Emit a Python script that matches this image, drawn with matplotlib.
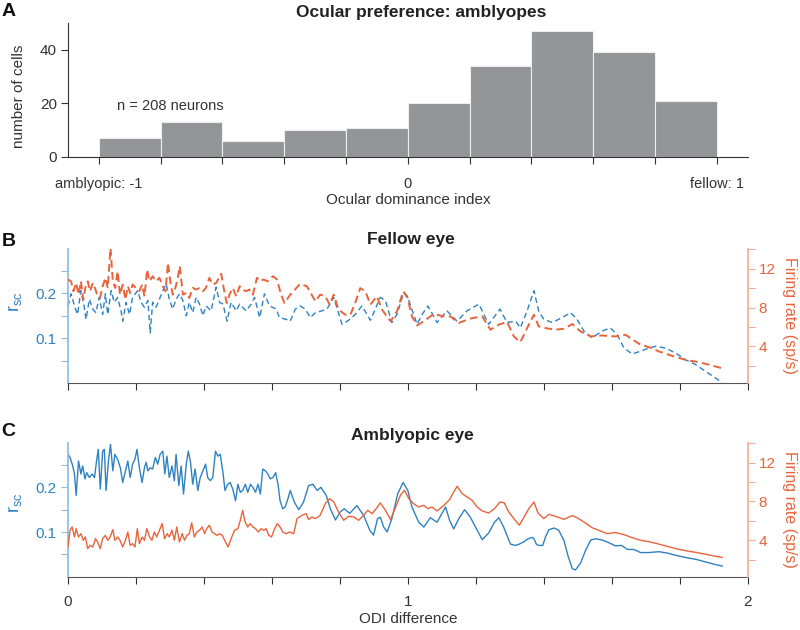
import numpy as np
import matplotlib
matplotlib.use('Agg')
import matplotlib.pyplot as plt

plt.rcParams['font.family'] = ['Liberation Sans', 'DejaVu Sans']
plt.rcParams['mathtext.default'] = 'regular'

# histogram of ocular dominance index
odi_bin_left = [-1.0, -0.8, -0.6, -0.4, -0.2, 0.0, 0.2, 0.4, 0.6, 0.8]
odi_counts = [7, 13, 6, 10, 11, 20, 34, 47, 39, 21]

# fellow eye: r_sc and firing rate vs ODI difference
fel_r_x = [0.000, 0.009, 0.019, 0.028, 0.038, 0.048, 0.053, 0.063, 0.073, 0.082,
           0.092, 0.102, 0.110, 0.117, 0.127, 0.136, 0.146, 0.156, 0.161, 0.171,
           0.181, 0.190, 0.205, 0.215, 0.225, 0.235, 0.242, 0.249, 0.259, 0.269,
           0.279, 0.289, 0.298, 0.308, 0.318, 0.328, 0.338, 0.348, 0.357, 0.367,
           0.377, 0.387, 0.397, 0.406, 0.421, 0.436, 0.446, 0.456, 0.468, 0.480,
           0.495, 0.505, 0.524, 0.539, 0.549, 0.564, 0.578, 0.593, 0.613, 0.622,
           0.642, 0.654, 0.669, 0.683, 0.698, 0.713, 0.728, 0.747, 0.762, 0.782,
           0.806, 0.826, 0.845, 0.865, 0.890, 0.919, 0.934, 0.953, 0.968, 0.988,
           1.003, 1.027, 1.042, 1.059, 1.086, 1.115, 1.145, 1.174, 1.209, 1.238,
           1.271, 1.292, 1.317, 1.331, 1.351, 1.371, 1.385, 1.400, 1.425, 1.454,
           1.479, 1.498, 1.518, 1.542, 1.572, 1.596, 1.616, 1.636, 1.660, 1.685,
           1.709, 1.729, 1.758, 1.788, 1.817, 1.847, 1.876, 1.906, 1.925]
fel_r = [0.172, 0.199, 0.172, 0.153, 0.206, 0.169, 0.142, 0.187, 0.165, 0.157,
         0.191, 0.153, 0.199, 0.153, 0.206, 0.180, 0.191, 0.161, 0.138, 0.180,
         0.153, 0.191, 0.206, 0.180, 0.169, 0.184, 0.112, 0.180, 0.169, 0.187,
         0.206, 0.221, 0.187, 0.165, 0.187, 0.199, 0.184, 0.150, 0.180, 0.157,
         0.191, 0.176, 0.150, 0.172, 0.161, 0.214, 0.180, 0.176, 0.138, 0.180,
         0.161, 0.176, 0.161, 0.176, 0.191, 0.146, 0.199, 0.172, 0.165, 0.146,
         0.142, 0.138, 0.165, 0.172, 0.165, 0.146, 0.157, 0.161, 0.165, 0.191,
         0.131, 0.140, 0.153, 0.172, 0.140, 0.191, 0.184, 0.135, 0.153, 0.202,
         0.184, 0.131, 0.153, 0.172, 0.135, 0.161, 0.138, 0.161, 0.176, 0.131,
         0.165, 0.135, 0.138, 0.123, 0.161, 0.206, 0.161, 0.142, 0.135, 0.146,
         0.157, 0.142, 0.116, 0.101, 0.116, 0.123, 0.108, 0.078, 0.065, 0.071,
         0.078, 0.082, 0.078, 0.067, 0.052, 0.041, 0.026, 0.011, 0.000]
fel_fr_x = [0.000, 0.009, 0.016, 0.024, 0.031, 0.038, 0.045, 0.051, 0.058, 0.065,
            0.073, 0.081, 0.087, 0.094, 0.102, 0.110, 0.117, 0.125, 0.132, 0.139,
            0.146, 0.153, 0.161, 0.169, 0.176, 0.183, 0.190, 0.200, 0.210, 0.218,
            0.225, 0.233, 0.240, 0.249, 0.259, 0.269, 0.279, 0.287, 0.294, 0.301,
            0.308, 0.316, 0.323, 0.329, 0.338, 0.348, 0.357, 0.367, 0.377, 0.387,
            0.397, 0.406, 0.416, 0.426, 0.436, 0.451, 0.458, 0.467, 0.475, 0.485,
            0.495, 0.505, 0.514, 0.524, 0.534, 0.544, 0.556, 0.566, 0.575, 0.588,
            0.603, 0.615, 0.627, 0.637,
            0.654, 0.683, 0.703, 0.728, 0.742, 0.757, 0.770, 0.782, 0.796, 0.816,
            0.831, 0.845, 0.860, 0.875, 0.890, 0.909, 0.924, 0.949, 0.968, 0.986,
            0.998, 1.012, 1.027, 1.047, 1.076, 1.106, 1.125, 1.150, 1.184, 1.219,
            1.243, 1.268, 1.292, 1.312,
            1.331, 1.351, 1.371, 1.385, 1.405, 1.434, 1.459, 1.484, 1.508, 1.538,
            1.572, 1.611, 1.641, 1.655, 1.680, 1.709, 1.739, 1.778, 1.817, 1.857,
            1.896, 1.925]
fel_fr = [10.87, 10.69, 9.67, 10.52, 9.32, 10.69, 8.81, 10.01, 10.69, 9.67,
          10.52, 9.84, 9.15, 8.98, 10.18, 11.04, 10.01, 14.13, 10.69, 10.01,
          11.72, 9.32, 10.35, 8.81, 10.18, 9.49, 10.35, 10.01, 9.67, 10.35,
          9.15, 11.90, 10.69, 11.21, 10.69, 11.04, 10.18, 9.67, 12.58, 10.69,
          9.32, 10.01, 11.04, 12.24, 9.32, 9.49, 8.98, 10.01, 9.84, 10.01,
          9.67, 10.01, 11.04, 10.35, 10.52, 11.45, 10.01, 8.46, 9.32, 10.01,
          9.15, 10.18, 9.84, 9.67, 9.84, 9.32, 11.04, 10.69, 10.87, 10.69,
          11.21, 10.87, 9.32, 8.46,
          9.32, 10.42, 10.18, 8.63, 9.32, 9.15, 8.30, 9.32, 7.78, 7.26,
          7.26, 8.46, 9.99, 9.65, 8.30, 9.15, 7.78, 6.59, 7.60, 9.65,
          9.15, 7.09, 6.16, 6.59, 7.33, 7.09, 7.09, 6.42, 6.87, 7.09,
          5.72, 6.25, 6.52, 5.03,
          4.45, 5.89, 7.26, 6.06, 5.89, 5.72, 5.82, 6.30, 5.55, 5.03,
          5.13, 5.03, 5.20, 4.86, 4.28, 3.93, 3.49, 3.04, 2.63, 2.39,
          2.04, 1.77]

# amblyopic eye: r_sc and firing rate vs ODI difference
amb_r_x = [0.000, 0.006, 0.014, 0.019, 0.024, 0.031, 0.038, 0.043, 0.050, 0.055,
           0.063, 0.071, 0.078, 0.084, 0.089, 0.095, 0.102, 0.107, 0.112, 0.119,
           0.125, 0.132, 0.138, 0.146, 0.154, 0.161, 0.169, 0.176, 0.183, 0.190,
           0.197, 0.203, 0.210, 0.218, 0.225, 0.230, 0.235, 0.242, 0.249, 0.257,
           0.264, 0.271, 0.279, 0.285, 0.291, 0.298, 0.306, 0.313, 0.318, 0.326,
           0.333, 0.340, 0.348, 0.354, 0.360, 0.367, 0.374, 0.382, 0.389, 0.397,
           0.405, 0.411, 0.419, 0.426, 0.434, 0.441, 0.448, 0.456, 0.462, 0.470,
           0.477, 0.485, 0.493, 0.500, 0.507, 0.514, 0.522, 0.529, 0.537, 0.544,
           0.552, 0.559, 0.566, 0.573, 0.581, 0.588, 0.595, 0.603, 0.611, 0.618,
           0.624, 0.632, 0.639, 0.647,
           0.654, 0.666, 0.679, 0.693, 0.708, 0.721, 0.733, 0.744, 0.760, 0.772,
           0.787, 0.801, 0.813, 0.829, 0.850, 0.870, 0.888, 0.899, 0.911, 0.919,
           0.929, 0.939, 0.953, 0.970, 0.986, 1.000, 1.012, 1.032, 1.047, 1.066,
           1.086, 1.111, 1.123, 1.135, 1.150, 1.167, 1.184, 1.204, 1.219, 1.238,
           1.255, 1.268, 1.282, 1.302,
           1.317, 1.328, 1.341, 1.354, 1.366, 1.371, 1.378, 1.385, 1.397, 1.405,
           1.415, 1.430, 1.444, 1.459, 1.472, 1.484, 1.493, 1.508, 1.523, 1.538,
           1.552, 1.572, 1.592, 1.611, 1.629, 1.646, 1.665, 1.685, 1.709, 1.739,
           1.763, 1.788, 1.817, 1.847, 1.876, 1.906, 1.925]
amb_r = [0.274, 0.267, 0.248, 0.230, 0.182, 0.259, 0.230, 0.248, 0.219, 0.233,
         0.222, 0.230, 0.222, 0.259, 0.285, 0.196, 0.281, 0.285, 0.193, 0.259,
         0.296, 0.237, 0.274, 0.263, 0.244, 0.211, 0.237, 0.259, 0.222, 0.252,
         0.263, 0.285, 0.244, 0.211, 0.244, 0.256, 0.237, 0.244, 0.241, 0.267,
         0.252, 0.274, 0.281, 0.230, 0.270, 0.222, 0.248, 0.215, 0.274, 0.204,
         0.248, 0.185, 0.252, 0.281, 0.259, 0.207, 0.241, 0.193, 0.222, 0.237,
         0.252, 0.222, 0.215, 0.222, 0.281, 0.270, 0.274, 0.233, 0.193, 0.207,
         0.211, 0.196, 0.170, 0.207, 0.189, 0.193, 0.207, 0.189, 0.207, 0.200,
         0.189, 0.207, 0.185, 0.241, 0.237, 0.230, 0.219, 0.222, 0.233, 0.207,
         0.170, 0.152, 0.156, 0.174,
         0.193, 0.167, 0.150, 0.167, 0.204, 0.207, 0.193, 0.200, 0.182, 0.152,
         0.127, 0.145, 0.152, 0.142, 0.159, 0.137, 0.104, 0.093, 0.130, 0.133,
         0.111, 0.100, 0.130, 0.185, 0.211, 0.193, 0.156, 0.122, 0.111, 0.132,
         0.122, 0.156, 0.126, 0.107, 0.130, 0.150, 0.133, 0.104, 0.083, 0.098,
         0.122, 0.132, 0.111, 0.073,
         0.070, 0.073, 0.078, 0.085, 0.088, 0.085, 0.073, 0.070, 0.070, 0.089,
         0.105, 0.109, 0.104, 0.082, 0.045, 0.018, 0.015, 0.030, 0.059, 0.082,
         0.085, 0.082, 0.076, 0.069, 0.070, 0.061, 0.061, 0.054, 0.054, 0.056,
         0.053, 0.048, 0.043, 0.039, 0.033, 0.027, 0.024]
amb_fr_x = [0.000, 0.006, 0.012, 0.019, 0.024, 0.031, 0.038, 0.045, 0.051, 0.058,
            0.065, 0.073, 0.081, 0.087, 0.095, 0.102, 0.110, 0.117, 0.124, 0.132,
            0.138, 0.146, 0.153, 0.161, 0.169, 0.176, 0.183, 0.190, 0.197, 0.204,
            0.210, 0.218, 0.225, 0.232, 0.240, 0.247, 0.254, 0.261, 0.269, 0.277,
            0.284, 0.292, 0.298, 0.306, 0.313, 0.320, 0.328, 0.336, 0.343, 0.350,
            0.357, 0.364, 0.372, 0.379, 0.387, 0.395, 0.402, 0.408, 0.416, 0.424,
            0.431, 0.438, 0.446, 0.454, 0.461, 0.471, 0.480, 0.490, 0.500, 0.507,
            0.514, 0.521, 0.529, 0.536, 0.544, 0.552, 0.560, 0.568, 0.576, 0.583,
            0.591, 0.599, 0.608, 0.616, 0.624, 0.632, 0.642, 0.652,
            0.664, 0.674, 0.688, 0.701, 0.708, 0.718, 0.728, 0.742, 0.757, 0.770,
            0.782, 0.796, 0.811, 0.826, 0.841, 0.855, 0.870, 0.882, 0.895, 0.907,
            0.919, 0.934, 0.949, 0.966, 0.978, 0.990, 1.003, 1.017, 1.032, 1.047,
            1.059, 1.071, 1.086, 1.106, 1.123, 1.135, 1.145, 1.160, 1.174, 1.189,
            1.204, 1.219, 1.238, 1.255, 1.271, 1.284, 1.297, 1.312,
            1.328, 1.341, 1.356, 1.371, 1.383, 1.400, 1.415, 1.434, 1.459, 1.484,
            1.498, 1.518, 1.542, 1.567, 1.587, 1.611, 1.636, 1.660, 1.685, 1.709,
            1.734, 1.763, 1.793, 1.822, 1.852, 1.881, 1.906, 1.925]
amb_fr = [3.31, 5.03, 5.37, 4.34, 5.20, 4.34, 4.68, 4.00, 4.34, 3.14,
          3.48, 3.31, 4.17, 3.82, 3.14, 4.17, 4.51, 4.00, 4.34, 5.10,
          4.00, 4.34, 4.00, 3.31, 4.00, 4.85, 3.48, 3.65, 3.31, 5.20,
          3.65, 4.34, 4.00, 5.20, 4.34, 4.00, 4.85, 4.34, 5.03, 5.72,
          4.17, 4.68, 4.34, 5.03, 4.00, 5.37, 3.82, 4.68, 4.00, 4.51,
          4.68, 5.79, 4.34, 4.85, 5.03, 5.37, 4.68, 5.20, 5.55, 4.85,
          4.68, 4.51, 4.68, 4.51, 4.00, 3.31, 4.17, 5.03, 5.20, 6.06,
          7.09, 5.89, 5.37, 5.72, 5.37, 5.20, 4.85, 5.20, 5.03, 5.20,
          4.51, 4.34, 5.20, 5.72, 5.37, 4.85, 4.68, 4.85,
          4.68, 6.23, 6.57, 6.74, 6.13, 6.40, 6.23, 6.57, 7.77, 8.29,
          7.95, 6.91, 6.06, 6.47, 6.40, 6.06, 6.57, 7.09, 6.74, 7.26,
          7.85, 7.09, 6.13, 7.60, 8.63, 9.15, 8.29, 7.77, 7.43, 7.60,
          7.26, 7.43, 7.02, 7.60, 8.19, 8.98, 9.56, 8.80, 8.46, 8.12,
          7.43, 7.02, 6.81, 7.26, 7.95, 7.85, 6.91, 6.23,
          5.55, 6.33, 7.26, 7.94, 6.81, 6.23, 6.67, 6.47, 6.16, 6.54,
          6.33, 5.89, 5.30, 4.96, 4.68, 4.80, 4.58, 4.27, 4.00, 3.86,
          3.65, 3.38, 3.10, 2.90, 2.73, 2.52, 2.35, 2.24]

blue = '#2f82c0'
blue_ax = '#8dbadd'
orange = '#e8643c'
orange_ax = '#f2ab92'
dark = '#333333'

fig = plt.figure(figsize=(8, 6.3), dpi=100)

# ---- A: histogram
axA = fig.add_axes([0.085, 0.7508, 0.8496, 0.2127])
axA.bar(odi_bin_left, odi_counts, width=0.2, align='edge',
        color='#939598', edgecolor='#eeeeee', linewidth=0.8)
axA.set_xlim(-1.1, 1.1)
axA.set_ylim(0, 50)
axA.set_yticks([0, 20, 40])
axA.set_xticks(np.round(np.arange(-1, 1.01, 0.2), 1))
axA.set_xticklabels(['amblyopic: -1', '', '', '', '', '0', '', '', '', '', 'fellow: 1'])
axA.tick_params(axis='x', direction='out', length=5, width=0.8, pad=9.5,
                labelsize=10.5, colors=dark)
axA.tick_params(axis='y', direction='out', length=5, width=0.8, pad=3,
                labelsize=11, colors=dark)
for s in ['top', 'right']:
    axA.spines[s].set_visible(False)
for s in ['left', 'bottom']:
    axA.spines[s].set_color(dark)
    axA.spines[s].set_linewidth(0.8)
axA.set_ylabel('number of cells', fontsize=11, color=dark, va='center')
axA.yaxis.set_label_coords(-0.072, 0.455)
axA.set_xlabel('Ocular dominance index', fontsize=11, color=dark, va='center')
axA.xaxis.set_label_coords(0.5, -0.32)
axA.set_title('Ocular preference: amblyopes', fontsize=12.5, fontweight='bold',
              color='#222222', pad=4, x=0.52)
axA.text(-0.77, 19, 'n = 208 neurons', fontsize=10.5, color=dark,
         ha='center', va='center')


def style_pair(ax, ax2, show_xlabels):
    ax.set_xlim(0, 2)
    ax.set_ylim(0, 0.3)
    ax2.set_ylim(0.25, 14.05)
    ax.set_xticks(np.round(np.arange(0, 2.01, 0.2), 1))
    if show_xlabels:
        ax.set_xticklabels(['0', '', '', '', '', '1', '', '', '', '', '2'])
    else:
        ax.set_xticklabels([])
    ax.set_yticks([0.05, 0.1, 0.15, 0.2, 0.25])
    ax.set_yticklabels(['', '0.1', '', '0.2', ''])
    ax2.set_yticks([2, 4, 6, 8, 10, 12, 14])
    ax2.set_yticklabels(['', '4', '', '8', '', '12', ''])
    ax.tick_params(axis='x', direction='out', length=5, width=0.8, pad=8,
                   labelsize=11, colors=dark)
    ax.tick_params(axis='y', direction='out', length=5, width=0.8, pad=3,
                   labelsize=11, color=blue_ax, labelcolor=blue)
    ax2.tick_params(axis='y', direction='out', length=5, width=0.8, pad=3,
                    labelsize=11, color=orange_ax, labelcolor=orange)
    for a in (ax, ax2):
        a.spines['top'].set_visible(False)
    ax.spines['right'].set_visible(False)
    ax2.spines['left'].set_visible(False)
    ax2.spines['bottom'].set_visible(False)
    ax.spines['left'].set_color(blue_ax)
    ax.spines['left'].set_linewidth(1.2)
    ax.spines['bottom'].set_color('#555555')
    ax.spines['bottom'].set_linewidth(0.8)
    ax2.spines['right'].set_color(orange_ax)
    ax2.spines['right'].set_linewidth(1.2)
    ax2.set_ylabel('Firing rate (sp/s)', rotation=270, fontsize=11.5,
                   color=orange, va='center')
    ax2.yaxis.set_label_coords(1.062, 0.5)


# ---- B: fellow eye
axB = fig.add_axes([0.085, 0.392, 0.8496, 0.2135])
axB2 = axB.twinx()
axB.plot(fel_r_x, fel_r, color=blue, lw=1.0, dashes=(4, 2.5))
axB2.plot(fel_fr_x, fel_fr, color=orange, lw=1.4, dashes=(4, 2.2))
style_pair(axB, axB2, False)
axB.set_ylabel('r$_{sc}$', fontsize=13, color=blue, va='center')
axB.yaxis.set_label_coords(-0.078, 0.605)
axB.set_title('Fellow eye', fontsize=12.5, fontweight='bold', color='#222222',
              pad=3, x=0.505)

# ---- C: amblyopic eye
axC = fig.add_axes([0.085, 0.0846, 0.8496, 0.2127])
axC2 = axC.twinx()
axC.plot(amb_r_x, amb_r, color=blue, lw=1.0)
axC2.plot(amb_fr_x, amb_fr, color=orange, lw=1.0)
style_pair(axC, axC2, True)
axC.set_ylabel('r$_{sc}$', fontsize=13, color=blue, va='center')
axC.yaxis.set_label_coords(-0.078, 0.55)
axC.set_xlabel('ODI difference', fontsize=11, color=dark, va='center')
axC.xaxis.set_label_coords(0.5, -0.316)
axC.set_title('Amblyopic eye', fontsize=12.5, fontweight='bold', color='#222222',
              pad=2, x=0.507)

# panel letters
for letter, ypix in [('A', 12), ('B', 242), ('C', 432)]:
    fig.text(8.5 / 800, 1 - ypix / 630, letter, fontsize=14, fontweight='bold',
             ha='center', va='center', color='#111111')

fig.savefig('out.png', dpi=100)
